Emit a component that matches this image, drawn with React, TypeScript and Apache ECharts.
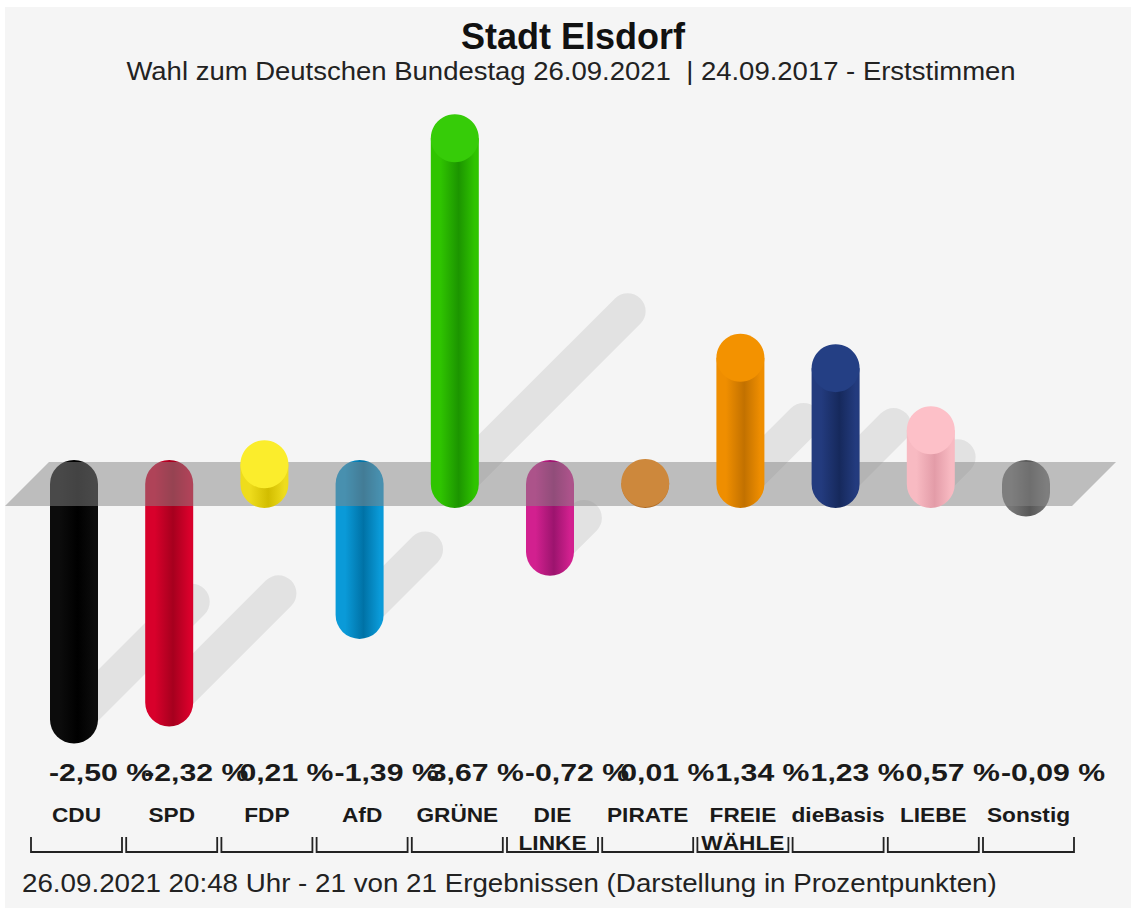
import React, { useEffect, useRef } from 'react';
import * as echarts from 'echarts';

const categories = ['CDU', 'SPD', 'FDP', 'AfD', 'GRÜNE', 'DIE LINKE', 'PIRATE', 'FREIE WÄHLE', 'dieBasis', 'LIEBE', 'Sonstig'];
const values = [-2.5, -2.32, 0.21, -1.39, 3.67, -0.72, 0.01, 1.34, 1.23, 0.57, -0.09];
const lightColors = ['#0c0c0c', '#d8002b', '#eedc1c', '#0a9ad8', '#2fc400', '#d2208f', '#c47c32', '#ef8e00', '#233b7e', '#f8bac2', '#767676'];
const darkColors = ['#000000', '#a6001e', '#d2bd00', '#0072a6', '#1c9500', '#9c146e', '#a86620', '#c27100', '#16295c', '#e39ca8', '#585858'];
const capColors = ['#0c0c0c', '#d8002b', '#fbed2c', '#0a9ad8', '#36cc08', '#d2208f', '#cd883c', '#f39200', '#243f84', '#fdc0c8', '#767676'];

const titleText = 'Stadt Elsdorf';
const subtitleText = 'Wahl zum Deutschen Bundestag 26.09.2021  | 24.09.2017 - Erststimmen';
const footerText = '26.09.2021 20:48 Uhr - 21 von 21 Ergebnissen (Darstellung in Prozentpunkten)';

const FONT = '"Liberation Sans", Arial, Helvetica, sans-serif';
const R = 24;

function grad(i: number) {
  return new echarts.graphic.LinearGradient(0, 0, 1, 0, [
    { offset: 0, color: lightColors[i] },
    { offset: 0.2, color: lightColors[i] },
    { offset: 0.58, color: darkColors[i] },
    { offset: 0.92, color: lightColors[i] },
    { offset: 1, color: lightColors[i] },
  ]);
}

const empty = { type: 'group', children: [] };

export default function App() {
  const ref = useRef<HTMLDivElement>(null);
  useEffect(() => {
    document.body.style.margin = '0';
    const chart = echarts.init(ref.current!, null, { renderer: 'svg' });
    const data = values.map((v, i) => [i, v]);
    const option: any = {
      animation: false,
      backgroundColor: '#ffffff',
      grid: { left: 26.4, width: 1047.2, top: 107.2, height: 659.4 },
      xAxis: { type: 'category', data: categories, show: false },
      yAxis: { type: 'value', min: -3, max: 4, show: false },
      graphic: [
        { type: 'rect', z: -10, shape: { x: 5, y: 7, width: 1126, height: 901 }, style: { fill: '#f5f5f5' } },
        {
          type: 'text', x: 573, y: 36,
          style: { text: titleText, fill: '#111', fontFamily: FONT, fontWeight: 'bold', fontSize: 36, align: 'center', verticalAlign: 'middle', textAlign: 'center', textVerticalAlign: 'middle' },
        },
        {
          type: 'text', x: 571, y: 71, scaleX: 1.1,
          style: { text: subtitleText, fill: '#222', fontFamily: FONT, fontSize: 25, align: 'center', verticalAlign: 'middle', textAlign: 'center', textVerticalAlign: 'middle' },
        },
        {
          type: 'text', x: 22, y: 883, scaleX: 1.11,
          style: { text: footerText, fill: '#222', fontFamily: FONT, fontSize: 25, align: 'left', verticalAlign: 'middle', textAlign: 'left', textVerticalAlign: 'middle' },
        },
      ],
      series: [
        {
          type: 'custom', name: 'shadows', z: 1, data, encode: { x: 0, y: 1 },
          renderItem: (params: any, api: any) => {
            const i = api.value(0);
            const v = api.value(1);
            const base = api.coord([i, 0]);
            const end = api.coord([i, v]);
            const L = Math.abs(end[1] - base[1]);
            if (L < 20) return empty;
            const p0 = v >= 0 ? base : end;
            return {
              type: 'line',
              shape: { x1: p0[0], y1: p0[1], x2: p0[0] + 0.5 * L, y2: p0[1] - 0.5 * L },
              style: { stroke: 'rgba(0,0,0,0.075)', lineWidth: 36, lineCap: 'round' },
            };
          },
        },
        {
          type: 'custom', name: 'negative', z: 2, data, encode: { x: 0, y: 1 },
          renderItem: (params: any, api: any) => {
            const i = api.value(0);
            const v = api.value(1);
            if (v >= 0) return empty;
            const base = api.coord([i, 0]);
            const end = api.coord([i, v]);
            return {
              type: 'rect',
              shape: { x: base[0] - R, y: base[1] - R, width: 2 * R, height: end[1] - base[1] + 2 * R, r: R },
              style: { fill: grad(i) },
            };
          },
        },
        {
          type: 'custom', name: 'plane', z: 3, data: [[0, 0]], encode: { x: 0, y: 1 },
          renderItem: (params: any, api: any) => {
            const cs = params.coordSys;
            const y0 = api.coord([0, 0])[1];
            return {
              type: 'polygon',
              shape: {
                points: [
                  [cs.x + 22.6, y0 - 22],
                  [cs.x + cs.width + 42.4, y0 - 22],
                  [cs.x + cs.width - 1.6, y0 + 22],
                  [cs.x - 21.4, y0 + 22],
                ],
              },
              style: { fill: 'rgba(134,134,134,0.5)' },
            };
          },
        },
        {
          type: 'custom', name: 'positive', z: 4, data, encode: { x: 0, y: 1 },
          renderItem: (params: any, api: any) => {
            const i = api.value(0);
            const v = api.value(1);
            if (v < 0) return empty;
            const base = api.coord([i, 0]);
            const end = api.coord([i, v]);
            return {
              type: 'group',
              children: [
                {
                  type: 'rect',
                  shape: { x: base[0] - R, y: end[1], width: 2 * R, height: base[1] - end[1] + R, r: [0, 0, R, R] },
                  style: { fill: grad(i) },
                },
                { type: 'circle', shape: { cx: end[0], cy: end[1], r: R }, style: { fill: capColors[i] } },
              ],
            };
          },
        },
        {
          type: 'custom', name: 'labels', z: 5, data, encode: { x: 0, y: 1 },
          renderItem: (params: any, api: any) => {
            const i = api.value(0);
            const v = api.value(1);
            const cx = api.coord([i, 0])[0];
            const bx = cx + 2.5;
            const lines = categories[i].split(' ');
            const children: any[] = [
              {
                type: 'text', x: cx - 25, y: 773, scaleX: 1.26,
                style: {
                  text: v.toFixed(2).replace('.', ',') + ' %', fill: '#1a1a1a', fontFamily: FONT, fontWeight: 'bold', fontSize: 24,
                  align: 'left', verticalAlign: 'middle', textAlign: 'left', textVerticalAlign: 'middle',
                },
              },
              {
                type: 'polyline',
                shape: { points: [[bx - 45.5, 837], [bx - 45.5, 852], [bx + 45.5, 852], [bx + 45.5, 837]] },
                style: { stroke: '#222', lineWidth: 1.8, fill: null },
              },
            ];
            lines.forEach((ln, k) => {
              children.push({
                type: 'text', x: bx, y: 815 + k * 28, scaleX: 1.08,
                style: {
                  text: ln, fill: '#1a1a1a', fontFamily: FONT, fontWeight: 'bold', fontSize: 21,
                  align: 'center', verticalAlign: 'middle', textAlign: 'center', textVerticalAlign: 'middle',
                },
              });
            });
            return { type: 'group', children };
          },
        },
      ],
    };
    chart.setOption(option);
    return () => chart.dispose();
  }, []);
  return <div ref={ref} style={{ width: 1131, height: 908 }} />;
}
